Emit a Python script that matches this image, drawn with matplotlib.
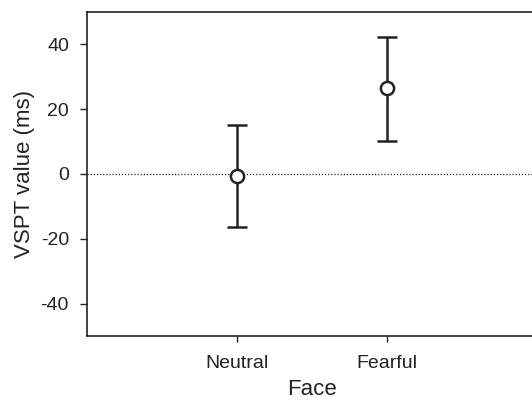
import matplotlib
matplotlib.use("Agg")
import matplotlib.pyplot as plt

faces = ["Neutral", "Fearful"]
means = [-0.6, 26.4]
lower = [-16.5, 10.2]
upper = [15.0, 42.4]

plt.rcParams['font.family'] = ['Liberation Sans', 'DejaVu Sans']
plt.rcParams['axes.unicode_minus'] = False
ink = "#222222"

fig = plt.figure(figsize=(5.32, 4.07), dpi=100)
ax = fig.add_axes([87 / 532, 71 / 407, 450 / 532, 324 / 407])

x = [1, 2]
yerr = [[m - lo for m, lo in zip(means, lower)], [hi - m for m, hi in zip(means, upper)]]
ax.axhline(0, color=ink, lw=0.9, ls=(0, (1, 1.5)), zorder=1)
ax.errorbar(x, means, yerr=yerr, fmt="o", color=ink, ecolor=ink, elinewidth=1.8,
            capsize=7.5, capthick=1.8, markersize=9.5, markerfacecolor="white",
            markeredgewidth=1.8, markeredgecolor=ink, zorder=3)

ax.set_xlim(0, 3)
ax.set_ylim(-50, 50)
ax.set_xticks(x)
ax.set_xticklabels(faces)
ax.set_yticks([-40, -20, 0, 20, 40])
ax.set_xlabel("Face", fontsize=16, color=ink, labelpad=5)
ax.set_ylabel("VSPT value (ms)", fontsize=16, color=ink, labelpad=4)
ax.tick_params(labelsize=14, colors=ink, width=1, direction="out")
ax.tick_params(axis="y", length=5, pad=8)
ax.tick_params(axis="x", length=4, pad=10)
for s in ax.spines.values():
    s.set_color(ink)
    s.set_linewidth(1.2)
ax.spines["right"].set_visible(False)

fig.savefig("out.png", dpi=100)
